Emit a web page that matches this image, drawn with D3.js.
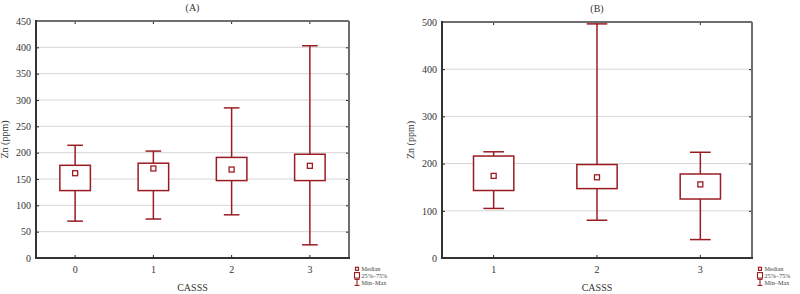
<!DOCTYPE html>
<html>
<head>
<meta charset="utf-8">
<script src="https://cdn.jsdelivr.net/npm/d3@7"></script>
<style>
  body { margin: 0; background: #fff; }
  svg { display: block; }
</style>
</head>
<body>
<svg id="chart" width="800" height="294"></svg>
<script>
// panel A data (CASSS 0-3)
const catsA = ["0", "1", "2", "3"];
const minA = [70, 74, 82, 25];
const q1A = [128, 128, 147, 147];
const medA = [161, 170, 168, 175];
const q3A = [176, 180, 191, 197];
const maxA = [214, 203, 285, 403];
const ticksA = [0, 50, 100, 150, 200, 250, 300, 350, 400, 450];

// panel B data (CASSS 1-3)
const catsB = ["1", "2", "3"];
const minB = [105, 80, 39];
const q1B = [143, 147, 125];
const medB = [174, 171, 156];
const q3B = [216, 198, 178];
const maxB = [225, 496, 224];
const ticksB = [0, 100, 200, 300, 400, 500];

const legendLabels = ["Median", "25%\u201375%", "Min\u2013Max"];

const boxColor = "#9a1c22";
const serif = "'Liberation Serif', 'DejaVu Serif', serif";
const svg = d3.select("#chart");

function drawPanel(p) {
    let g = svg.append("g");
    let rows = p.cats.map((c, i) => ({
        cat: c, min: p.min[i], q1: p.q1[i], med: p.med[i], q3: p.q3[i], max: p.max[i]
    }));

    let x = d3.scaleBand()
        .domain(p.cats)
        .range([p.left, p.right]);
    let y = d3.scaleLinear()
        .domain([0, d3.max(p.ticks)])
        .range([p.bottom, p.top]);
    let cx = d => x(d.cat) + x.bandwidth() / 2;
    let boxW = x.bandwidth() * 0.39;
    let capW = x.bandwidth() * 0.2;

    // gridlines
    g.selectAll(".grid")
        .data(p.ticks.slice(1, -1))
        .enter().append("line")
        .attr("x1", p.left).attr("x2", p.right)
        .attr("y1", d => y(d)).attr("y2", d => y(d))
        .attr("stroke", "#d6d6d6")
        .attr("stroke-width", 1);

    // y axis (inner ticks left and right)
    g.append("g")
        .attr("transform", "translate(" + p.left + ",0)")
        .call(d3.axisLeft(y).tickValues(p.ticks).tickSize(-3).tickPadding(5))
        .call(a => a.select(".domain").remove())
        .call(a => a.selectAll("line").attr("stroke", "#222"))
        .call(a => a.selectAll("text").style("font-family", serif).style("font-size", "10px").attr("fill", "#333"));
    g.append("g")
        .attr("transform", "translate(" + p.right + ",0)")
        .call(d3.axisRight(y).tickValues(p.ticks).tickSize(-3).tickFormat(""))
        .call(a => a.select(".domain").remove())
        .call(a => a.selectAll("line").attr("stroke", "#222"));

    // x axis (inner ticks top and bottom)
    g.append("g")
        .attr("transform", "translate(0," + p.bottom + ")")
        .call(d3.axisBottom(x).tickSize(-3).tickPadding(8))
        .call(a => a.select(".domain").remove())
        .call(a => a.selectAll("line").attr("stroke", "#222"))
        .call(a => a.selectAll("text").style("font-family", serif).style("font-size", "10px").attr("fill", "#333"));
    g.append("g")
        .attr("transform", "translate(0," + p.top + ")")
        .call(d3.axisTop(x).tickSize(-3).tickFormat(""))
        .call(a => a.select(".domain").remove())
        .call(a => a.selectAll("line").attr("stroke", "#222"));

    // frame
    g.append("line")
        .attr("x1", p.left).attr("x2", p.right).attr("y1", p.top).attr("y2", p.top)
        .attr("stroke", "#6e6e6e").attr("stroke-width", 2);
    g.append("line")
        .attr("x1", p.right).attr("x2", p.right).attr("y1", p.top).attr("y2", p.bottom)
        .attr("stroke", "#6e6e6e").attr("stroke-width", 2);
    g.append("line")
        .attr("x1", p.left).attr("x2", p.left).attr("y1", p.top - 1).attr("y2", p.bottom + 1)
        .attr("stroke", "#333").attr("stroke-width", 2);
    g.append("line")
        .attr("x1", p.left - 1).attr("x2", p.right + 1).attr("y1", p.bottom).attr("y2", p.bottom)
        .attr("stroke", "#333").attr("stroke-width", 2);

    // whiskers
    let box = g.selectAll(".box").data(rows).enter().append("g");
    box.append("line")
        .attr("x1", cx).attr("x2", cx)
        .attr("y1", d => y(d.max)).attr("y2", d => y(d.q3))
        .attr("stroke", boxColor).attr("stroke-width", 1.5);
    box.append("line")
        .attr("x1", cx).attr("x2", cx)
        .attr("y1", d => y(d.q1)).attr("y2", d => y(d.min))
        .attr("stroke", boxColor).attr("stroke-width", 1.5);
    box.append("line")
        .attr("x1", d => cx(d) - capW / 2).attr("x2", d => cx(d) + capW / 2)
        .attr("y1", d => y(d.max)).attr("y2", d => y(d.max))
        .attr("stroke", boxColor).attr("stroke-width", 1.5);
    box.append("line")
        .attr("x1", d => cx(d) - capW / 2).attr("x2", d => cx(d) + capW / 2)
        .attr("y1", d => y(d.min)).attr("y2", d => y(d.min))
        .attr("stroke", boxColor).attr("stroke-width", 1.5);
    // 25-75 boxes
    box.append("rect")
        .attr("x", d => cx(d) - boxW / 2)
        .attr("width", boxW)
        .attr("y", d => y(d.q3))
        .attr("height", d => y(d.q1) - y(d.q3))
        .attr("fill", "#fff")
        .attr("stroke", boxColor).attr("stroke-width", 1.5);
    // median markers
    box.append("rect")
        .attr("x", d => cx(d) - 2.5)
        .attr("y", d => y(d.med) - 2.5)
        .attr("width", 5).attr("height", 5)
        .attr("fill", "#fff")
        .attr("stroke", boxColor).attr("stroke-width", 1.3);

    // titles and labels
    g.append("text")
        .attr("x", (p.left + p.right) / 2)
        .attr("y", p.top - 10)
        .attr("text-anchor", "middle")
        .style("font-family", serif).style("font-size", "10px").attr("fill", "#333")
        .text(p.title);
    g.append("text")
        .attr("x", (p.left + p.right) / 2)
        .attr("y", 291)
        .attr("text-anchor", "middle")
        .style("font-family", serif).style("font-size", "10px").attr("fill", "#333")
        .text("CASSS");
    g.append("text")
        .attr("transform", "translate(" + (p.left - 28) + "," + ((p.top + p.bottom) / 2) + ") rotate(-90)")
        .attr("text-anchor", "middle")
        .style("font-family", serif).style("font-size", "10px").attr("fill", "#333")
        .text("Zn (ppm)");

    // legend
    let lx = p.right + 8;
    let ly = [268.8, 275.6, 282.4];
    let leg = g.append("g");
    leg.append("rect")
        .attr("x", lx - 1.5).attr("y", ly[0] - 1.5).attr("width", 3).attr("height", 3)
        .attr("fill", "#fff").attr("stroke", boxColor).attr("stroke-width", 1.2);
    leg.append("rect")
        .attr("x", lx - 2.5).attr("y", ly[1] - 3).attr("width", 5).attr("height", 5.5)
        .attr("fill", "#fff").attr("stroke", boxColor).attr("stroke-width", 1.1);
    leg.append("line")
        .attr("x1", lx).attr("x2", lx).attr("y1", ly[2] - 3).attr("y2", ly[2] + 3)
        .attr("stroke", boxColor).attr("stroke-width", 1.1);
    leg.append("line")
        .attr("x1", lx - 2.5).attr("x2", lx + 2.5).attr("y1", ly[2] - 3).attr("y2", ly[2] - 3)
        .attr("stroke", boxColor).attr("stroke-width", 1.1);
    leg.append("line")
        .attr("x1", lx - 2.5).attr("x2", lx + 2.5).attr("y1", ly[2] + 3).attr("y2", ly[2] + 3)
        .attr("stroke", boxColor).attr("stroke-width", 1.1);
    leg.selectAll("text")
        .data(legendLabels)
        .enter().append("text")
        .attr("x", lx + 4.5)
        .attr("y", (d, i) => ly[i] + 2.2)
        .style("font-family", serif).style("font-size", "6.2px").attr("fill", "#444")
        .text(d => d);
}

drawPanel({
    title: "(A)", cats: catsA, min: minA, q1: q1A, med: medA, q3: q3A, max: maxA, ticks: ticksA,
    left: 36, right: 349, top: 21, bottom: 258
});
drawPanel({
    title: "(B)", cats: catsB, min: minB, q1: q1B, med: medB, q3: q3B, max: maxB, ticks: ticksB,
    left: 442, right: 752, top: 22, bottom: 258
});
</script>
</body>
</html>
